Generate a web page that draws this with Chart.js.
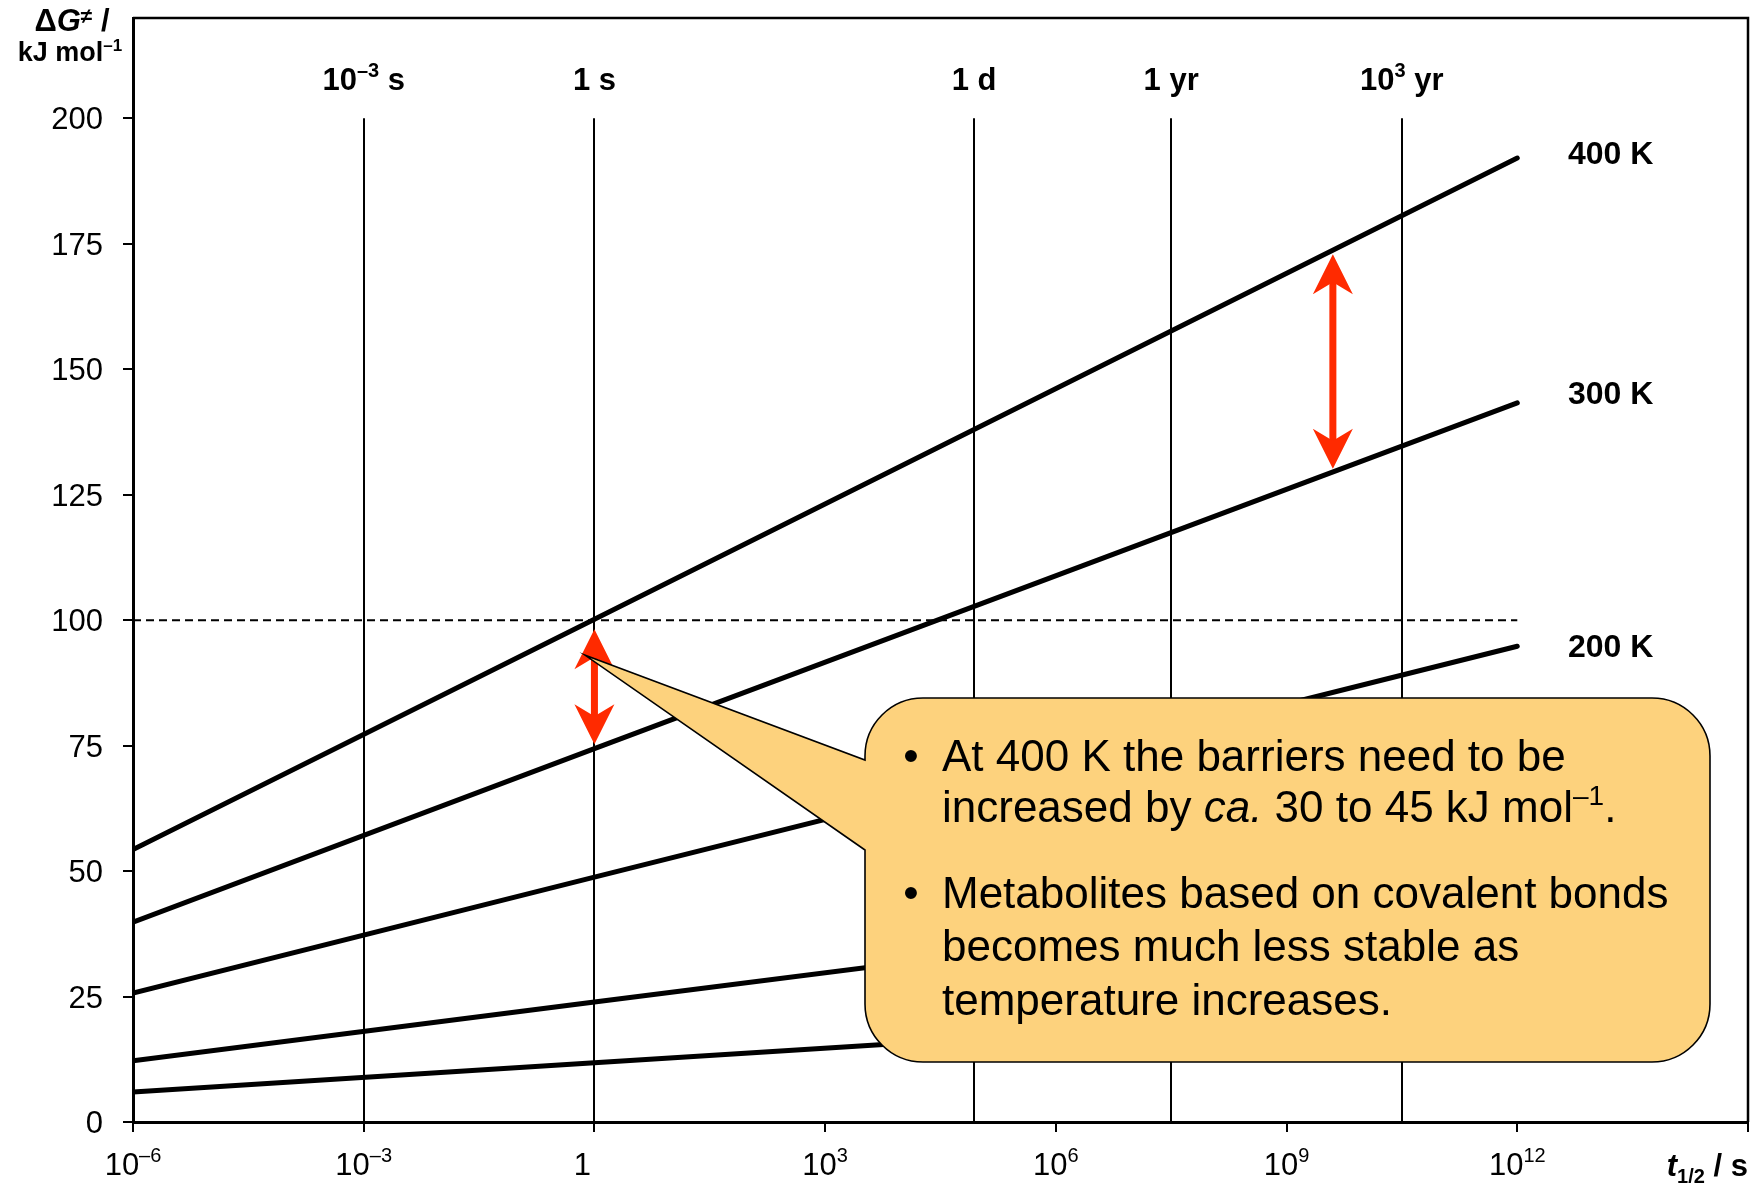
<!DOCTYPE html>
<html>
<head>
<meta charset="utf-8">
<title>Barrier height vs half-life</title>
<script src="https://cdn.jsdelivr.net/npm/chart.js@4.4.0/dist/chart.umd.min.js"></script>
<style>
  body { margin: 0; background: #fff; }
  #wrap { width: 1760px; height: 1184px; }
</style>
</head>
<body>
<div id="wrap"><canvas id="chart" width="1760" height="1184"></canvas></div>
<script>
// Half-life points (s) where each line is read
const halfLifePoints = [1e-6, 1, 1e12];

// Barrier heights (kJ/mol) at those half-lives
const barrier400K = [54.3, 100.2, 192.1];
const barrier300K = [39.8, 74.4, 143.3];
const barrier200K = [25.7, 48.8, 94.8];
const barrier100K = [12.2, 23.9, 47.2];
const barrier50K = [6.0, 11.8, 23.4];

const seriesLabels = ['400 K', '300 K', '200 K'];
const seriesLabelLevels = [193, 145.3, 94.8];

// Axis ticks
const xTickValues = [1e-6, 1e-3, 1, 1e3, 1e6, 1e9, 1e12, 1e15];
const xTickExponents = ['–6', '–3', '', '3', '6', '9', '12', null];
const yTickValues = [0, 25, 50, 75, 100, 125, 150, 175, 200];

// Time markers along the top
const markerTimes = [1e-3, 1, 86400, 3.156e7, 3.156e10];
const markerBase = ['10', '1', '1', '1', '10'];
const markerSup = ['–3', '', '', '', '3'];
const markerUnit = [' s', ' s', ' d', ' yr', ' yr'];

// Red double arrows: [time, top, bottom]
const arrowTimes = [1, 4e9];
const arrowTops = [98.2, 172.9];
const arrowBottoms = [75.3, 130.2];

// Callout pointer tip (data coords)
const calloutTip = { x: 0.76, y: 93 };

const FONT = '"Liberation Sans", Arial, sans-serif';
const RED = '#FF2A00';

function drawRich(ctx, parts, x, y, align) {
    let total = 0;
    parts.forEach(p => { ctx.font = p.font; p.w = ctx.measureText(p.text).width; total += p.w; });
    let cx = align === 'center' ? x - total / 2 : align === 'right' ? x - total : x;
    parts.forEach(p => {
        ctx.font = p.font;
        ctx.fillText(p.text, cx, y + (p.dy || 0));
        cx += p.w;
    });
}

function drawArrow(ctx, x, yTop, yBot) {
    const headLen = 40, headHalf = 20, notch = 28, shaft = 7;
    ctx.save();
    ctx.fillStyle = RED;
    ctx.fillRect(x - shaft / 2, yTop + notch - 2, shaft, (yBot - yTop) - 2 * notch + 4);
    ctx.beginPath();
    ctx.moveTo(x, yTop);
    ctx.lineTo(x + headHalf, yTop + headLen);
    ctx.lineTo(x, yTop + notch);
    ctx.lineTo(x - headHalf, yTop + headLen);
    ctx.closePath();
    ctx.fill();
    ctx.beginPath();
    ctx.moveTo(x, yBot);
    ctx.lineTo(x + headHalf, yBot - headLen);
    ctx.lineTo(x, yBot - notch);
    ctx.lineTo(x - headHalf, yBot - headLen);
    ctx.closePath();
    ctx.fill();
    ctx.restore();
}

const decor = {
    id: 'decor',
    beforeDatasetsDraw(chart) {
        const { ctx, scales: { x, y } } = chart;
        ctx.save();
        ctx.strokeStyle = '#000';
        ctx.lineWidth = 2;
        markerTimes.forEach(t => {
            const px = Math.round(x.getPixelForValue(t));
            ctx.beginPath();
            ctx.moveTo(px, y.getPixelForValue(200));
            ctx.lineTo(px, y.getPixelForValue(0));
            ctx.stroke();
        });
        ctx.setLineDash([8, 5]);
        ctx.beginPath();
        ctx.moveTo(x.getPixelForValue(1e-6), y.getPixelForValue(100));
        ctx.lineTo(x.getPixelForValue(1e12), y.getPixelForValue(100));
        ctx.stroke();
        ctx.restore();
    },
    afterDatasetsDraw(chart) {
        const { ctx, scales: { x, y } } = chart;
        // arrows
        arrowTimes.forEach((t, i) => {
            drawArrow(ctx, x.getPixelForValue(t), y.getPixelForValue(arrowTops[i]), y.getPixelForValue(arrowBottoms[i]));
        });

        // callout
        const L = 865, T = 698, R = 1710, B = 1062, r = 58;
        const tipX = x.getPixelForValue(calloutTip.x), tipY = y.getPixelForValue(calloutTip.y);
        ctx.save();
        ctx.beginPath();
        ctx.moveTo(L + r, T);
        ctx.lineTo(R - r, T);
        ctx.arcTo(R, T, R, T + r, r);
        ctx.lineTo(R, B - r);
        ctx.arcTo(R, B, R - r, B, r);
        ctx.lineTo(L + r, B);
        ctx.arcTo(L, B, L, B - r, r);
        ctx.lineTo(L, 850);
        ctx.lineTo(tipX, tipY);
        ctx.lineTo(L, 760);
        ctx.lineTo(L, T + r);
        ctx.arcTo(L, T, L + r, T, r);
        ctx.closePath();
        ctx.fillStyle = '#FDD27D';
        ctx.fill();
        ctx.strokeStyle = '#000';
        ctx.lineWidth = 1.6;
        ctx.lineJoin = 'miter';
        ctx.stroke();

        ctx.fillStyle = '#000';
        ctx.textBaseline = 'alphabetic';
        const f = '44px ' + FONT;
        const fi = 'italic 44px ' + FONT;
        const fs = '28px ' + FONT;
        const tx = 942;
        ctx.font = f;
        ctx.textAlign = 'center';
        ctx.fillText('•', 911, 771);
        ctx.fillText('•', 911, 908);
        ctx.textAlign = 'left';
        drawRich(ctx, [{ text: 'At 400 K the barriers need to be', font: f }], tx, 771, 'left');
        drawRich(ctx, [
            { text: 'increased by ', font: f },
            { text: 'ca.', font: fi },
            { text: ' 30 to 45 kJ mol', font: f },
            { text: '–1', font: fs, dy: -17 },
            { text: '.', font: f }
        ], tx, 822, 'left');
        drawRich(ctx, [{ text: 'Metabolites based on covalent bonds', font: f }], tx, 908, 'left');
        drawRich(ctx, [{ text: 'becomes much less stable as', font: f }], tx, 961, 'left');
        drawRich(ctx, [{ text: 'temperature increases.', font: f }], tx, 1015, 'left');

        // series labels
        ctx.font = 'bold 32px ' + FONT;
        seriesLabels.forEach((lab, i) => {
            ctx.fillText(lab, 1568, y.getPixelForValue(seriesLabelLevels[i]) + 11);
        });

        // time markers
        const fb = 'bold 31px ' + FONT, fbs = 'bold 20px ' + FONT;
        markerTimes.forEach((t, i) => {
            const parts = [{ text: markerBase[i], font: fb }];
            if (markerSup[i]) parts.push({ text: markerSup[i], font: fbs, dy: -13 });
            parts.push({ text: markerUnit[i], font: fb });
            drawRich(ctx, parts, x.getPixelForValue(t), 90, 'center');
        });
        ctx.restore();
    },
    afterDraw(chart) {
        const { ctx, chartArea: a, scales: { x, y } } = chart;
        ctx.save();
        // top & right frame
        ctx.strokeStyle = '#000';
        ctx.lineWidth = 2.5;
        ctx.beginPath();
        ctx.moveTo(a.left, a.top);
        ctx.lineTo(a.right, a.top);
        ctx.lineTo(a.right, a.bottom);
        ctx.stroke();

        ctx.fillStyle = '#000';
        ctx.textBaseline = 'alphabetic';
        // y tick labels
        ctx.font = '31px ' + FONT;
        ctx.textAlign = 'right';
        yTickValues.forEach(v => ctx.fillText(String(v), 103, y.getPixelForValue(v) + 11));
        ctx.textAlign = 'left';
        // x tick labels
        const fr = '31px ' + FONT, fsup = '20px ' + FONT;
        xTickValues.forEach((v, i) => {
            const e = xTickExponents[i];
            if (e === null) return;
            const px = x.getPixelForValue(v);
            if (e === '') {
                drawRich(ctx, [{ text: '1', font: fr }], px - 12, 1175, 'center');
            } else {
                drawRich(ctx, [{ text: '10', font: fr }, { text: e, font: fsup, dy: -13 }], px, 1175, 'center');
            }
        });
        // axis titles
        drawRich(ctx, [
            { text: 'Δ', font: 'bold 31px ' + FONT },
            { text: 'G', font: 'italic bold 31px ' + FONT },
            { text: '≠', font: 'bold 21px ' + FONT, dy: -8 },
            { text: ' /', font: 'bold 31px ' + FONT }
        ], 72, 31, 'center');
        drawRich(ctx, [
            { text: 'kJ mol', font: 'bold 27px ' + FONT },
            { text: '–1', font: 'bold 17px ' + FONT, dy: -10 }
        ], 70, 61, 'center');
        drawRich(ctx, [
            { text: 't', font: 'italic bold 31px ' + FONT },
            { text: '1/2', font: 'bold 20px ' + FONT, dy: 7 },
            { text: ' / s', font: 'bold 31px ' + FONT }
        ], 1748, 1176, 'right');
        ctx.restore();
    }
};

const series = [barrier400K, barrier300K, barrier200K, barrier100K, barrier50K];

new Chart(document.getElementById('chart').getContext('2d'), {
    type: 'line',
    data: {
        datasets: series.map(vals => ({
            data: halfLifePoints.map((t, i) => ({ x: t, y: vals[i] })),
            borderColor: '#000',
            borderWidth: 5,
            borderCapStyle: 'round',
            pointRadius: 0,
            tension: 0,
            fill: false
        }))
    },
    options: {
        responsive: false,
        animation: false,
        events: [],
        layout: { padding: { top: 18, right: 12, left: 0, bottom: 0 } },
        plugins: { legend: { display: false }, tooltip: { enabled: false } },
        scales: {
            x: {
                type: 'logarithmic',
                min: 1e-6,
                max: 1e15,
                afterBuildTicks: s => { s.ticks = xTickValues.map(v => ({ value: v })); },
                afterFit: s => { s.height = 62; },
                ticks: { callback: () => '', autoSkip: false },
                grid: { drawOnChartArea: false, drawTicks: true, tickLength: 10, color: '#000', lineWidth: 2 },
                border: { color: '#000', width: 3 }
            },
            y: {
                type: 'linear',
                min: 0,
                max: 220,
                afterBuildTicks: s => { s.ticks = yTickValues.map(v => ({ value: v })); },
                afterFit: s => { s.width = 133; },
                ticks: { callback: () => '', autoSkip: false },
                grid: { drawOnChartArea: false, drawTicks: true, tickLength: 10, color: '#000', lineWidth: 2 },
                border: { color: '#000', width: 3 }
            }
        }
    },
    plugins: [decor]
});
</script>
</body>
</html>
